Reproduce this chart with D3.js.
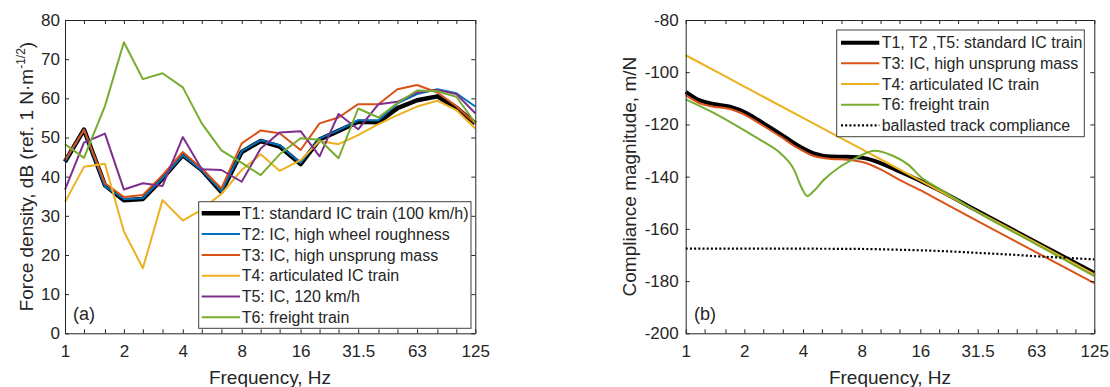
<!DOCTYPE html>
<html>
<head>
<meta charset="utf-8">
<script src="https://cdn.jsdelivr.net/npm/d3@7"></script>
<style>
body{margin:0;background:#fff;}
text{font-family:"Liberation Sans",Arial,sans-serif;fill:#262626;}
</style>
</head>
<body>
<script>
var svg_width=1110;
var svg_height=387;

// one-third octave bands, Hz
var bands=[1,1.25,1.6,2,2.5,3.15,4,5,6.3,8,10,12.5,16,20,25,31.5,40,50,63,80,100,125];
var band_labels=[1,2,4,8,16,31.5,63,125];

// (a) force density, dB
var force_t1=[43.8,52,37.8,34.0,34.3,39.5,45.5,41.7,36.1,46.3,49.1,47.7,43.2,49.5,51.7,54.0,53.9,57.5,59.5,60.5,57.6,53.6];
var force_t2=[43.8,52,37.6,34.3,34.5,39.6,45.5,41.6,36.3,46.5,49.3,48.0,43.5,49.7,51.9,54.4,54.4,58.7,61.1,62.3,61.3,57.9];
var force_t3=[44.2,52,38.3,34.8,35.3,40.4,46.3,42.1,37.0,48.5,51.8,51.1,46.8,53.6,55.1,58.5,58.5,62.3,63.4,61.5,58.0,53.6];
var force_t4=[33.5,42.5,43.3,26.0,16.6,34.0,28.8,31.6,35.6,41.7,45.7,41.5,44.2,49.1,48.3,50.6,53.4,55.7,57.9,59.4,57.0,52.3];
var force_t5=[36.7,48.7,51.0,36.7,38.3,37.6,50.1,41.9,41.7,38.7,47.2,51.3,51.6,45.2,56.0,52.1,58.5,59.1,61.5,62.1,61.1,56.2];
var force_t6=[48.3,44.8,58.0,74.3,64.9,66.4,62.8,53.6,46.7,43.5,40.4,45.7,49.8,49.4,44.7,57.4,55.1,58.8,62.0,61.8,60.4,53.7];
var force_names=["T1: standard IC train (100 km/h)","T2: IC, high wheel roughness","T3: IC, high unsprung mass","T4: articulated IC train","T5: IC, 120 km/h","T6: freight train"];
var force_ticks=[0,10,20,30,40,50,60,70,80];

// (b) compliance magnitude, dB re 1 m/N
var comp_freq_t1=[1,1.19,1.39,1.69,2.06,2.51,3.07,3.73,4.54,5.55,6.77,8.25,10,12.5,16,20,31.5,63,125];
var comp_t1=[-107.5,-110.9,-112.2,-113.2,-115.7,-119.6,-123.7,-127.9,-131.1,-132.3,-132.4,-132.9,-134.8,-138.0,-141.6,-145.2,-153.2,-165.1,-176.9];
var comp_freq_t3=[1,1.19,1.39,1.69,2.06,2.51,3.07,3.73,4.54,5.55,6.77,8.25,10,12.5,16,20,31.5,63,125];
var comp_t3=[-108.8,-112.0,-113.2,-114.1,-116.7,-120.6,-124.7,-128.9,-132.1,-133.2,-133.5,-134.6,-137.2,-141.2,-145.2,-149.1,-157.0,-169.0,-180.8];
var comp_freq_t4=[1,2,4,8,16,31.5,63,125];
var comp_t4=[-93.5,-105.5,-117.5,-129.5,-141.5,-153.4,-165.4,-177.4];
var comp_freq_t6=[1,1.4,2,2.5,3.07,3.6,3.95,4.2,4.5,5.1,6.2,7.6,9.3,11.3,13.9,16.2,20,25,31.5,63,125];
var comp_t6=[-110.4,-115.7,-122.3,-126.6,-131.1,-137.4,-144.5,-147.4,-145.8,-141.3,-136.2,-132.6,-130.1,-131.7,-135.5,-140.3,-144.6,-149.0,-153.6,-165.9,-178.1];
var comp_freq_track=[1,4,8,12.5,16,25,31.5,50,63,100,125];
var comp_track=[-167.6,-167.6,-167.7,-168.0,-168.2,-168.8,-169.2,-170.0,-170.5,-171.3,-171.7];
var comp_names=["T1, T2 ,T5: standard IC train","T3: IC, high unsprung mass","T4: articulated IC train","T6: freight train","ballasted track compliance"];
var comp_ticks=[-200,-180,-160,-140,-120,-100,-80];

var force_colors=["#000000","#0072BD","#D95319","#EDB120","#7E2F8E","#77AC30"];
var force_widths=[4.5,2,2,2,2,2];
var comp_colors=["#000000","#D95319","#EDB120","#77AC30","#000000"];
var comp_widths=[4,2,2,2,2.2];
var axis_color="#262626";

var svg=d3.select("body")
        .append("svg")
        .attr("width",svg_width)
        .attr("height",svg_height);

function frame(g,x,y,w,h,yticks,ypad){
    g.append("g")
        .attr("transform","translate(0,"+h+")")
        .call(d3.axisBottom(x).tickValues(bands).tickSize(-4).tickSizeOuter(0).tickPadding(12)
            .tickFormat(function (d) { return band_labels.indexOf(d)>=0 ? String(d) : ""; }));
    g.append("g")
        .call(d3.axisTop(x).tickValues(bands).tickSize(-4).tickSizeOuter(0).tickFormat(""));
    g.append("g")
        .call(d3.axisLeft(y).tickValues(yticks).tickSize(-4).tickSizeOuter(0).tickPadding(ypad)
            .tickFormat(function (d) { return String(d); }));
    g.append("g")
        .attr("transform","translate("+w+",0)")
        .call(d3.axisRight(y).tickValues(yticks).tickSize(-4).tickSizeOuter(0).tickFormat(""));
    g.selectAll(".domain").attr("stroke",axis_color);
    g.selectAll(".tick line").attr("stroke",axis_color);
    g.selectAll("g").attr("font-family",null).attr("font-size",null);
    g.selectAll(".tick text").attr("font-size","17px").attr("fill",axis_color);
}

function legend(g,w,h,rowTop,rowStep,x1,x2,tx,names,colors,widths,dashed){
    g.append("rect")
        .attr("width",w).attr("height",h)
        .attr("fill","#fff").attr("stroke","#404040").attr("stroke-width",1);
    var row=g.selectAll("g.row")
        .data(names)
        .enter()
        .append("g")
        .attr("class","row")
        .attr("transform",function (d,i) { return "translate(0,"+(rowTop+i*rowStep)+")"; });
    row.append("line")
        .attr("x1",x1).attr("x2",x2)
        .attr("stroke",function (d,i) { return colors[i]; })
        .attr("stroke-width",function (d,i) { return widths[i]; })
        .attr("stroke-dasharray",function (d,i) { return dashed[i] ? "2,2.2" : null; });
    row.append("text")
        .attr("x",tx).attr("y",5.6)
        .attr("font-size","16px")
        .text(function (d) { return d; });
}

// ---------- (a)
var wa=410.3, ha=313.3;
var ga=svg.append("g").attr("transform","translate(65,20)");
var xa=d3.scaleLog().domain([1,125]).range([0,wa]);
var ya=d3.scaleLinear().domain([0,80]).range([ha,0]);
var force_series=[force_t1,force_t2,force_t3,force_t4,force_t5,force_t6];
var line_a=d3.line()
    .x(function (d,i) { return xa(bands[i]); })
    .y(function (d) { return ya(d); });

ga.selectAll("path.series")
    .data(force_series)
    .enter()
    .append("path")
    .attr("class","series")
    .attr("d",function (d) { return line_a(d); })
    .attr("fill","none")
    .attr("stroke",function (d,i) { return force_colors[i]; })
    .attr("stroke-width",function (d,i) { return force_widths[i]; })
    .attr("stroke-linejoin","round");

frame(ga,xa,ya,wa,ha,force_ticks,5);

ga.append("text").attr("x",8).attr("y",300).attr("font-size","18px").text("(a)");

legend(svg.append("g").attr("transform","translate(198.7,201.7)"),
    272.3,126.6,11.6,20.8,3,41.3,43,force_names,force_colors,force_widths,[0,0,0,0,0,0]);

svg.append("text")
    .attr("x",270).attr("y",383.5)
    .attr("text-anchor","middle").attr("font-size","19px")
    .text("Frequency, Hz");

var ylab=svg.append("text")
    .attr("transform","translate(33,176.6) rotate(-90)")
    .attr("text-anchor","middle").attr("font-size","19px");
ylab.append("tspan").text("Force density, dB (ref. 1 N·m");
ylab.append("tspan").attr("font-size","12px").attr("dy",-8).text("-1/2");
ylab.append("tspan").attr("dy",8).text(")");

// ---------- (b)
var wb=408.6, hb=313.3;
var gb=svg.append("g").attr("transform","translate(685.7,20)");
var xb=d3.scaleLog().domain([1,125]).range([0,wb]);
var yb=d3.scaleLinear().domain([-200,-80]).range([hb,0]);
var comp_series=[
    d3.zip(comp_freq_t1,comp_t1),
    d3.zip(comp_freq_t3,comp_t3),
    d3.zip(comp_freq_t4,comp_t4),
    d3.zip(comp_freq_t6,comp_t6),
    d3.zip(comp_freq_track,comp_track)
];
var line_b=d3.line()
    .x(function (d) { return xb(d[0]); })
    .y(function (d) { return yb(d[1]); })
    .curve(d3.curveMonotoneX);

gb.selectAll("path.series")
    .data(comp_series)
    .enter()
    .append("path")
    .attr("class","series")
    .attr("d",function (d) { return line_b(d); })
    .attr("fill","none")
    .attr("stroke",function (d,i) { return comp_colors[i]; })
    .attr("stroke-width",function (d,i) { return comp_widths[i]; })
    .attr("stroke-dasharray",function (d,i) { return i==4 ? "2,2.2" : null; })
    .attr("stroke-linejoin","round");

frame(gb,xb,yb,wb,hb,comp_ticks,7);

gb.append("text").attr("x",8.3).attr("y",300).attr("font-size","18px").text("(b)");

legend(svg.append("g").attr("transform","translate(836.7,30)"),
    247.6,106.7,12.7,20.65,4.3,42.6,45,comp_names,comp_colors,comp_widths,[0,0,0,0,1]);

svg.append("text")
    .attr("x",890).attr("y",383.5)
    .attr("text-anchor","middle").attr("font-size","19px")
    .text("Frequency, Hz");

svg.append("text")
    .attr("transform","translate(635.5,176.6) rotate(-90)")
    .attr("text-anchor","middle").attr("font-size","19px")
    .text("Compliance magnitude, m/N");
</script>
</body>
</html>
